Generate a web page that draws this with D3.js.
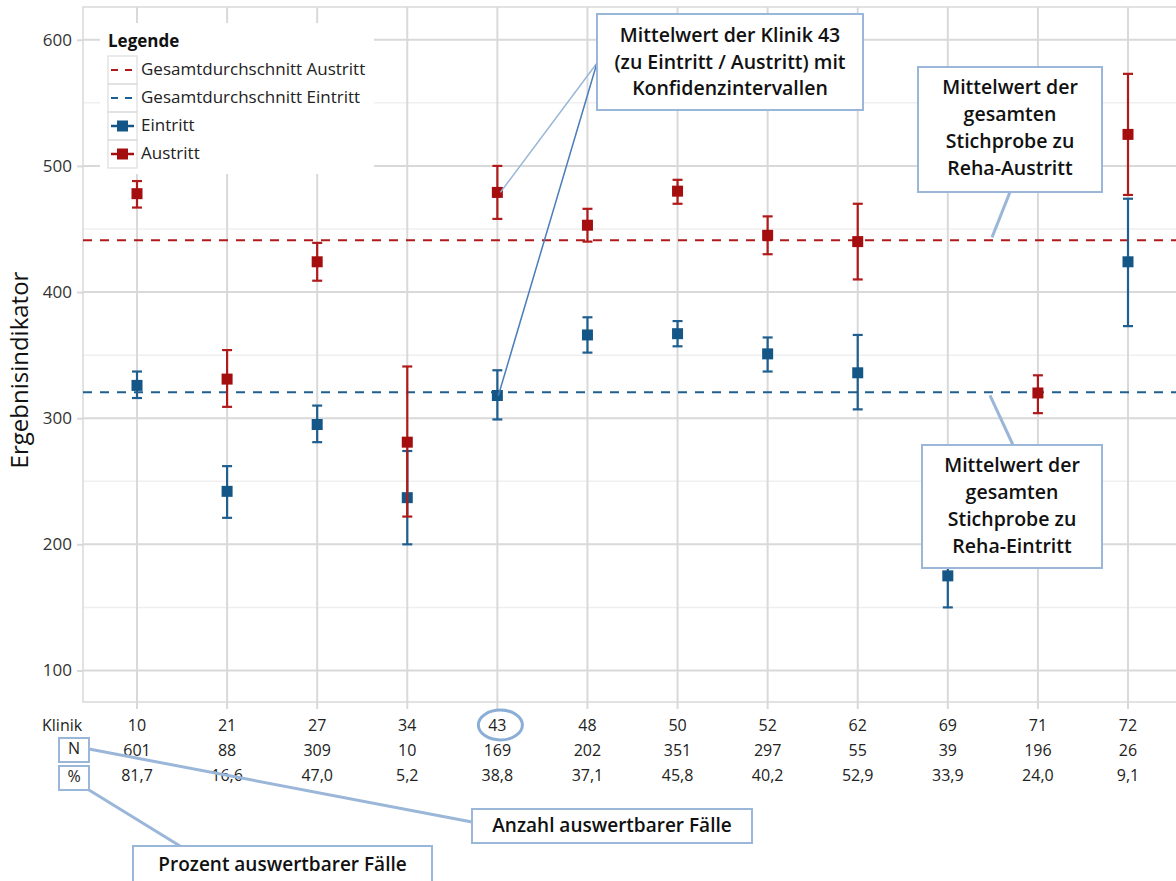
<!DOCTYPE html>
<html><head><meta charset="utf-8">
<script src="https://cdn.jsdelivr.net/npm/d3@7"></script>
<style>
html,body{margin:0;padding:0;background:#fff;}
svg{display:block;font-family:"Open Sans","Noto Sans",sans-serif;}
</style></head>
<body><svg id="c" width="1176" height="881"></svg>
<script>
// ---- data ----
const kliniken = ["10","21","27","34","43","48","50","52","62","69","71","72"];
const nValues = ["601","88","309","10","169","202","351","297","55","39","196","26"];
const pctValues = ["81,7","16,6","47,0","5,2","38,8","37,1","45,8","40,2","52,9","33,9","24,0","9,1"];
const eintrittMean = [326, 242, 295, 237, 318, 366, 367, 351, 336, 175, null, 424];
const eintrittLow  = [316, 221, 281, 200, 299, 352, 357, 337, 307, 150, null, 373];
const eintrittHigh = [337, 262, 310, 274, 338, 380, 377, 364, 366, 200, null, 474];
const austrittMean = [478, 331, 424, 281, 479, 453, 480, 445, 440, null, 320, 525];
const austrittLow  = [467, 309, 409, 222, 458, 440, 470, 430, 410, null, 304, 477];
const austrittHigh = [488, 354, 439, 341, 500, 466, 489, 460, 470, null, 334, 573];
const meanAustritt = 441;
const meanEintritt = 320.5;
const yTicks = [100, 200, 300, 400, 500, 600];
const yMinorTicks = [150, 250, 350, 450, 550];
const legendLabels = ["Gesamtdurchschnitt Austritt","Gesamtdurchschnitt Eintritt","Eintritt","Austritt"];
const callout43 = ["Mittelwert der Klinik 43","(zu Eintritt / Austritt) mit","Konfidenzintervallen"];
const calloutAus = ["Mittelwert der","gesamten","Stichprobe zu","Reha-Austritt"];
const calloutEin = ["Mittelwert der","gesamten","Stichprobe zu","Reha-Eintritt"];

(function () {
// ---- setup ----
const svg = d3.select("#c");
const W = 1176;
const pLeft = 83, pTop = 7, pBottom = 702;
const blueC = "#145787", redC = "#a50e0e";
const blueLine = "#1f5f8f", redLine = "#b01a1a";
const grid = "#d9d9d9", calloutStroke = "#9ab6d8";

const x = d3.scalePoint().domain(kliniken).range([137, 1128]);
const y = d3.scaleLinear().domain([75, 626]).range([pBottom, pTop]);

// minor grid
svg.append("g").selectAll("line").data(yMinorTicks).join("line")
  .attr("x1", pLeft).attr("x2", W).attr("y1", d => y(d)).attr("y2", d => y(d))
  .attr("stroke", "#efefef").attr("stroke-width", 1.5);
// major grid
svg.append("g").selectAll("line").data(yTicks).join("line")
  .attr("x1", pLeft).attr("x2", W).attr("y1", d => y(d)).attr("y2", d => y(d))
  .attr("stroke", grid).attr("stroke-width", 2);
// vertical grid (extends slightly below as ticks)
svg.append("g").selectAll("line").data(kliniken).join("line")
  .attr("x1", d => x(d)).attr("x2", d => x(d)).attr("y1", pTop).attr("y2", pBottom + 7)
  .attr("stroke", grid).attr("stroke-width", 2);
// frame
svg.append("path").attr("d", `M${W},${pTop}H${pLeft}V${pBottom}H${W}`)
  .attr("fill", "none").attr("stroke", grid).attr("stroke-width", 1.5);

// y axis
const ya = svg.append("g").attr("transform", `translate(${pLeft},0)`)
  .call(d3.axisLeft(y).tickValues(yTicks).tickSize(6).tickPadding(5));
ya.select(".domain").remove();
ya.selectAll(".tick line").attr("stroke", grid).attr("stroke-width", 2);
ya.selectAll(".tick text").attr("fill", "#333").style("font-size", "17px")
  .style("font-family", '"Open Sans","Noto Sans",sans-serif');

svg.append("text").attr("transform", "translate(22,370) rotate(-90)")
  .attr("text-anchor", "middle").attr("dominant-baseline", "middle")
  .style("font-size", "24px").attr("fill", "#111").text("Ergebnisindikator");

// mean dashed lines
[[meanAustritt, redLine], [meanEintritt, blueLine]].forEach(([v, c]) => {
  svg.append("line").attr("x1", pLeft).attr("x2", W).attr("y1", y(v)).attr("y2", y(v))
    .attr("stroke", c).attr("stroke-width", 2).attr("stroke-dasharray", "9,8");
});

// error bars
function drawSeries(mean, lo, hi, lineC, markC) {
  const data = kliniken.map((k, i) => ({k, m: mean[i], l: lo[i], h: hi[i]})).filter(d => d.m != null);
  const g = svg.append("g");
  g.selectAll(".w").data(data).join("line")
    .attr("x1", d => x(d.k)).attr("x2", d => x(d.k)).attr("y1", d => y(d.l)).attr("y2", d => y(d.h))
    .attr("stroke", lineC).attr("stroke-width", 2.2);
  ["l", "h"].forEach(key => {
    g.selectAll(".c" + key).data(data).join("line")
      .attr("x1", d => x(d.k) - 5).attr("x2", d => x(d.k) + 5)
      .attr("y1", d => y(d[key])).attr("y2", d => y(d[key]))
      .attr("stroke", lineC).attr("stroke-width", 2.2);
  });
  g.selectAll("rect").data(data).join("rect")
    .attr("x", d => x(d.k) - 5.5).attr("y", d => y(d.m) - 5.5)
    .attr("width", 11).attr("height", 11).attr("fill", markC);
}
drawSeries(eintrittMean, eintrittLow, eintrittHigh, blueLine, blueC);
drawSeries(austrittMean, austrittLow, austrittHigh, redLine, redC);

// legend
const lg = svg.append("g");
lg.append("rect").attr("x", 100).attr("y", 23).attr("width", 274).attr("height", 151).attr("fill", "#fff");
lg.append("text").attr("x", 108).attr("y", 42).attr("dominant-baseline", "middle")
  .style("font-size", "17px").style("font-weight", "bold").attr("fill", "#111").text("Legende");
legendLabels.forEach((lab, i) => {
  const cy = 70 + i * 28;
  lg.append("rect").attr("x", 108).attr("y", cy - 14).attr("width", 29).attr("height", 28)
    .attr("fill", "none").attr("stroke", "#dcdcdc").attr("stroke-width", 1.2);
  if (i < 2) {
    lg.append("line").attr("x1", 111).attr("x2", 134).attr("y1", cy).attr("y2", cy)
      .attr("stroke", i === 0 ? redLine : blueLine).attr("stroke-width", 2).attr("stroke-dasharray", "7,7");
  } else {
    const c = i === 2 ? blueC : redC;
    lg.append("line").attr("x1", 111).attr("x2", 134).attr("y1", cy).attr("y2", cy)
      .attr("stroke", c).attr("stroke-width", 2.5);
    lg.append("rect").attr("x", 117).attr("y", cy - 5.5).attr("width", 11).attr("height", 11).attr("fill", c);
  }
  lg.append("text").attr("x", 141).attr("y", cy).attr("dominant-baseline", "middle")
    .style("font-size", "17px").attr("fill", "#222").text(lab);
});

// callouts
function connector(x1, y1, x2, y2, c, w) {
  svg.append("line").attr("x1", x1).attr("y1", y1).attr("x2", x2).attr("y2", y2)
    .attr("stroke", c).attr("stroke-width", w);
}
function box(x0, y0, x1, y1, lines, cy0, dy, size) {
  svg.append("rect").attr("x", x0).attr("y", y0).attr("width", x1 - x0).attr("height", y1 - y0)
    .attr("fill", "#fff").attr("stroke", calloutStroke).attr("stroke-width", 2);
  lines.forEach((t, i) => {
    svg.append("text").attr("x", (x0 + x1) / 2).attr("y", cy0 + i * dy)
      .attr("text-anchor", "middle").attr("dominant-baseline", "middle")
      .style("font-size", size + "px").style("font-weight", 600).attr("fill", "#111").text(t);
  });
}
connector(597, 63, x("43") + 3, y(austrittMean[4]), calloutStroke, 1.5);
connector(597, 63, x("43") + 1, y(eintrittMean[4]), "#4a7dba", 1.5);
box(597, 14, 863, 110, callout43, 37, 26.5, 19.5);

connector(1010, 192, 992, y(meanAustritt) - 3, calloutStroke, 3);
box(918, 67, 1102, 192, calloutAus, 89, 27, 19.5);

connector(1013, 445, 990, y(meanEintritt) + 3, calloutStroke, 3);
box(922, 445, 1102, 568, calloutEin, 467, 27, 19.5);

// table below
const tb = svg.append("g").style("font-size", "16px").attr("fill", "#222");
tb.append("text").attr("x", 42).attr("y", 727).attr("dominant-baseline", "middle").text("Klinik");
[[kliniken, 727], [nValues, 752], [pctValues, 777]].forEach(([arr, yy]) => {
  tb.selectAll(null).data(arr).join("text")
    .attr("x", (d, i) => x(kliniken[i])).attr("y", yy)
    .attr("text-anchor", "middle").attr("dominant-baseline", "middle").text(d => d);
});
// N / % boxes
[["N", 738], ["%", 766]].forEach(([t, yy]) => {
  svg.append("rect").attr("x", 59).attr("y", yy).attr("width", 30).attr("height", 24)
    .attr("fill", "none").attr("stroke", calloutStroke).attr("stroke-width", 2);
  svg.append("text").attr("x", 74).attr("y", yy + 12).attr("text-anchor", "middle")
    .attr("dominant-baseline", "middle").style("font-size", "16px").attr("fill", "#222").text(t);
});
// ellipse around 43
svg.append("ellipse").attr("cx", x("43") + 3).attr("cy", 725).attr("rx", 22).attr("ry", 15)
  .attr("fill", "none").attr("stroke", "#8aaed6").attr("stroke-width", 3);

connector(89, 749, 472, 822, calloutStroke, 3);
connector(89, 790, 180, 846, calloutStroke, 3);
box(472, 809, 752, 843, ["Anzahl auswertbarer Fälle"], 827, 0, 19);
box(133, 846, 432, 895, ["Prozent auswertbarer Fälle"], 866, 0, 19);
})();
</script></body></html>
